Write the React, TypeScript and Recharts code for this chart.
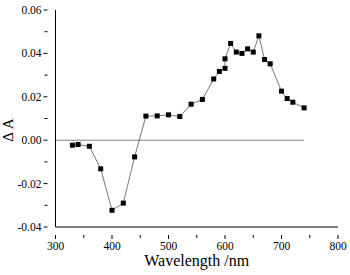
import React from 'react';
import { LineChart, Line, XAxis, YAxis, ReferenceLine, Label } from 'recharts';

// wavelength (nm) and ΔA
const wavelengths = [330, 340, 360, 380, 400, 420, 440, 460, 480, 500, 520, 540, 560, 580, 590, 600, 600, 610, 620, 630, 640, 650, 660, 670, 680, 700, 710, 720, 740];
const deltaA = [-0.0023, -0.002, -0.0028, -0.0132, -0.0323, -0.029, -0.0077, 0.0111, 0.0112, 0.0117, 0.0109, 0.0166, 0.0188, 0.0282, 0.0317, 0.0331, 0.0375, 0.0446, 0.0406, 0.04, 0.0421, 0.0406, 0.0481, 0.0372, 0.0352, 0.0226, 0.0192, 0.0175, 0.0149];

const xTicks = [300, 350, 400, 450, 500, 550, 600, 650, 700, 750, 800];
const yTicks = [-0.04, -0.03, -0.02, -0.01, 0, 0.01, 0.02, 0.03, 0.04, 0.05, 0.06];

const data = wavelengths.map((w, i) => ({ w, a: deltaA[i] }));

const FONT = '"Liberation Serif", "Times New Roman", serif';

const XTick = (props: any) => {
  const { x, y, payload } = props;
  const major = payload.value % 100 === 0;
  return (
    <g>
      <line x1={x} x2={x} y1={y} y2={y + (major ? 4 : 3)} stroke="#000" />
      {major && (
        <text x={x} y={y + 15} textAnchor="middle" fontSize={11.5} style={{ fontFamily: FONT }} fill="#000">
          {payload.value}
        </text>
      )}
    </g>
  );
};

const YTick = (props: any) => {
  const { x, y, payload } = props;
  const k = Math.round(payload.value * 100);
  const major = k % 2 === 0;
  return (
    <g>
      <line x1={x} x2={x - (major ? 4 : 3)} y1={y} y2={y} stroke="#000" />
      {major && (
        <text x={x - 6} y={y + 4} textAnchor="end" fontSize={11.5} style={{ fontFamily: FONT }} fill="#000">
          {payload.value.toFixed(2)}
        </text>
      )}
    </g>
  );
};

const SquareDot = (props: any) => {
  const { cx, cy } = props;
  if (cx == null || cy == null) return null;
  return <rect x={cx - 2.5} y={cy - 2.5} width={5} height={5} fill="#000" />;
};

const YLabel = () => (
  <text
    transform="translate(13,130) rotate(-90)"
    textAnchor="middle"
    fontSize={15}
    style={{ fontFamily: FONT }}
    fill="#000"
  >
    Δ A
  </text>
);

export default function App() {
  return (
    <div style={{ position: 'absolute', left: 0, top: 0, background: '#fff' }}>
      <LineChart width={350} height={275} data={data} margin={{ top: 10, right: 12, left: 0, bottom: 0 }}>
        <XAxis
          dataKey="w"
          type="number"
          domain={[300, 800]}
          ticks={xTicks}
          interval={0}
          tick={<XTick />}
          tickLine={false}
          axisLine={{ stroke: '#000' }}
          height={48}
        >
          <Label value="Wavelength /nm" position="insideBottom" offset={9} fontSize={16} style={{ fontFamily: FONT }} fill="#000" />
        </XAxis>
        <YAxis
          type="number"
          domain={[-0.04, 0.06]}
          ticks={yTicks}
          interval={0}
          tick={<YTick />}
          tickLine={false}
          axisLine={{ stroke: '#000' }}
          width={55.5}
        >
          <Label content={<YLabel />} />
        </YAxis>
        <ReferenceLine
          segment={[{ x: 300, y: 0 }, { x: 740, y: 0 }]}
          stroke="#808080"
          strokeWidth={1}
        />
        <Line
          type="linear"
          dataKey="a"
          stroke="#555"
          strokeWidth={0.8}
          dot={<SquareDot />}
          activeDot={false}
          isAnimationActive={false}
        />
      </LineChart>
    </div>
  );
}
